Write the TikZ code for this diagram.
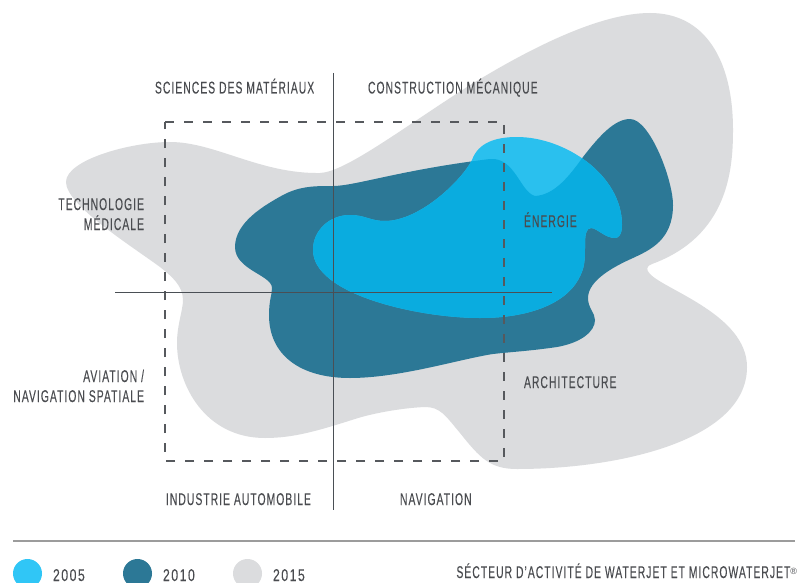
\documentclass[tikz,border=0pt]{standalone}
\usepackage{fontspec}
\setmainfont[FakeStretch=0.61,LetterSpace=6,FakeBold=0.07]{Liberation Sans}
\newfontfamily\digitfont[FakeStretch=0.72,LetterSpace=9,FakeBold=0.07]{Liberation Sans}
\newfontfamily\regfont{Liberation Sans}
\definecolor{grey15}{HTML}{DBDCDE}
\definecolor{dark10}{HTML}{2C7896}
\definecolor{light05}{HTML}{2AC0EE}
\definecolor{over05}{HTML}{0AACDF}
\definecolor{legend05}{HTML}{30C6F6}
\definecolor{inktext}{HTML}{4A4C50}
\definecolor{axisline}{HTML}{4A4F55}
\definecolor{dashline}{HTML}{56595D}
\definecolor{rulegrey}{HTML}{9C9C9C}
\tikzset{
  greyshape/.style={insert path={(66,182)
    .. controls (66,160) and (130,142) .. (170,142)
    .. controls (215,142) and (260,174) .. (320,173)
    .. controls (345,172) and (400,130) .. (467,87)
    .. controls (530,48) and (600,13) .. (650,13)
    .. controls (705,13) and (733,60) .. (733,130)
    .. controls (733,170) and (728,236) .. (652,264)
    .. controls (646,266) and (646,270) .. (650,274)
    .. controls (665,290) and (747,315) .. (747,367)
    .. controls (747,440) and (620,469) .. (517,469)
    .. controls (490,469) and (480,458) .. (460,433)
    .. controls (445,415) and (440,407) .. (425,407)
    .. controls (400,408) and (370,414) .. (355,419)
    .. controls (320,430) and (295,438) .. (265,438)
    .. controls (205,438) and (177,385) .. (177,343)
    .. controls (177,325) and (183,310) .. (183,300)
    .. controls (183,285) and (170,275) .. (160,267)
    .. controls (130,245) and (66,205) .. (66,182) -- cycle}},
  darkshape/.style={insert path={(235,247)
    .. controls (235,222) and (265,205) .. (283,195)
    .. controls (300,186) and (315,186) .. (333,186)
    .. controls (355,186) and (400,170) .. (490,159)
    .. controls (515,157) and (520,192) .. (535,196)
    .. controls (555,195) and (570,175) .. (583,157)
    .. controls (600,135) and (615,119) .. (630,119)
    .. controls (650,119) and (673,180) .. (673,205)
    .. controls (673,240) and (650,250) .. (633,258)
    .. controls (615,266) and (588,280) .. (588,298)
    .. controls (588,308) and (595,313) .. (595,320)
    .. controls (595,332) and (580,343) .. (557,347)
    .. controls (530,351) and (510,352) .. (493,354)
    .. controls (460,359) and (400,378) .. (350,378)
    .. controls (300,378) and (269,355) .. (269,315)
    .. controls (269,300) and (272,295) .. (272,288)
    .. controls (272,275) and (235,270) .. (235,247) -- cycle}},
  lightshape/.style={insert path={(313,250)
    .. controls (313,230) and (330,215) .. (350,215)
    .. controls (365,215) and (370,221) .. (385,221)
    .. controls (420,221) and (462,180) .. (472,160)
    .. controls (478,143) and (495,137) .. (517,137)
    .. controls (565,137) and (622,175) .. (622,225)
    .. controls (622,235) and (618,238) .. (615,238)
    .. controls (605,238) and (597,228) .. (591,228)
    .. controls (586,228) and (585,235) .. (585,245)
    .. controls (585,260) and (585,268) .. (578,280)
    .. controls (565,303) and (530,318) .. (480,318)
    .. controls (420,318) and (313,295) .. (313,250) -- cycle}},
  lab/.style={anchor=base west,inner sep=0pt,outer sep=0pt,text=inktext,font=\fontsize{17}{19}\selectfont},
  labr/.style={lab,anchor=base east},
  axisrule/.style={draw=axisline,line width=1pt},
  dashbox/.style={draw=dashline,line width=1.5pt,dash pattern=on 9pt off 10pt},
  swatch/.style={circle,inner sep=0pt,minimum size=29pt}
}
\begin{document}
\begin{tikzpicture}[x=1pt,y=-1pt]
\useasboundingbox (0,0) rectangle (797,583);
\fill[white] (0,0) rectangle (797,583);
\fill[grey15,greyshape];
\fill[dark10,darkshape];
\fill[light05,lightshape];
\begin{scope}
  \clip[lightshape];
  \fill[over05,darkshape];
\end{scope}
% dashed frame
\coordinate (fnw) at (165,122);
\coordinate (fne) at (504,122);
\coordinate (fse) at (504,461);
\coordinate (fsw) at (165,461);
\draw[dashbox] (fnw) -- (fne) -- (fse) -- (fsw) -- cycle;
% axes
\coordinate (vt) at (333,73);
\coordinate (vb) at (333,510);
\coordinate (hl) at (115,292);
\coordinate (hr) at (552,292);
\draw[axisrule] (vt) -- (vb);
\draw[axisrule] (hl) -- (hr);
% labels
\node[lab] (sci) at (155,93.5) {SCIENCES DES MATÉRIAUX};
\node[lab] (con) at (368,93.5) {CONSTRUCTION MÉCANIQUE};
\node[labr] (tec) at (144,210) {TECHNOLOGIE};
\node[labr] (med) at (144,230) {MÉDICALE};
\node[lab] (ene) at (524,227) {ÉNERGIE};
\node[labr] (avi) at (144,382) {AVIATION /};
\node[labr] (nsp) at (144,402) {NAVIGATION SPATIALE};
\node[lab] (arc) at (524,388) {ARCHITECTURE};
\node[lab] (ind) at (166,505) {INDUSTRIE AUTOMOBILE};
\node[lab] (nav) at (400,505) {NAVIGATION};
% legend
\coordinate (rl) at (13,541);
\coordinate (rr) at (795,541);
\draw[rulegrey,line width=1.5pt] (rl) -- (rr);
\node[swatch,fill=legend05] (s05) at (27.5,573.5) {};
\node[swatch,fill=dark10] (s10) at (137.5,573.5) {};
\node[swatch,fill=grey15] (s15) at (247.5,573.5) {};
\node[lab] (t05) at (53,581) {\digitfont 2005};
\node[lab] (t10) at (163,581) {\digitfont 2010};
\node[lab] (t15) at (273,581) {\digitfont 2015};
\node[lab,anchor=base east] (sec) at (797,578) {SÉCTEUR D’ACTIVITÉ DE WATERJET ET MICROWATERJET\raisebox{4pt}{\regfont\fontsize{9}{9}\selectfont ®}};
\end{tikzpicture}
\end{document}
